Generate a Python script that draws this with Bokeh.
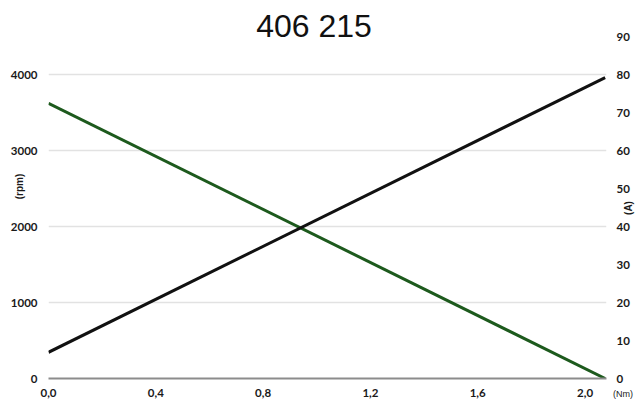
import math
from bokeh.plotting import figure
from bokeh.models import (Range1d, LinearAxis, FixedTicker, CustomJSTickFormatter, Label)
from bokeh.embed import file_html
from bokeh.resources import INLINE

# ---- data ----
title_text = "406 215"
torque_nm = [0.0, 2.075]          # (Nm)
speed_rpm = [3620, 0]             # left axis (rpm)
current_a = [6.9, 79.2]           # right axis (A)
x_ticks = [0.0, 0.4, 0.8, 1.2, 1.6, 2.0]
left_ticks = [0, 1000, 2000, 3000, 4000]
right_ticks = [0, 10, 20, 30, 40, 50, 60, 70, 80, 90]

p = figure(frame_width=558, frame_height=342,
           x_range=Range1d(0, 2.08), y_range=Range1d(0, 4500),
           output_backend="svg", toolbar_location=None,
           min_border_left=48, min_border_right=33, min_border_top=0, min_border_bottom=0)
p.outline_line_color = None
p.background_fill_color = "white"
p.border_fill_color = "white"
p.extra_y_ranges = {"amp": Range1d(0, 90)}

tick_font = "Lato"
tick_size = "11.5px"
tick_color = "#1a1a1a"
small_font = "Liberation Sans"

def style_axis(ax, standoff):
    ax.major_tick_line_color = None
    ax.minor_tick_line_color = None
    ax.major_tick_out = 0
    ax.major_tick_in = 0
    ax.minor_tick_out = 0
    ax.minor_tick_in = 0
    ax.major_label_standoff = standoff
    ax.major_label_text_font = tick_font
    ax.major_label_text_font_style = "bold"
    ax.major_label_text_font_size = tick_size
    ax.major_label_text_color = tick_color

# bottom axis
xa = p.xaxis[0]
xa.ticker = FixedTicker(ticks=x_ticks)
xa.formatter = CustomJSTickFormatter(code="return tick.toFixed(1).replace('.', ',');")
xa.axis_line_color = "#8c8c8c"
xa.axis_line_width = 2
style_axis(xa, 10)

# left axis
ya = p.yaxis[0]
ya.ticker = FixedTicker(ticks=left_ticks)
ya.axis_line_color = None
style_axis(ya, 11)

# right axis
ra = LinearAxis(y_range_name="amp", ticker=FixedTicker(ticks=right_ticks))
ra.axis_line_color = None
style_axis(ra, 10)
p.add_layout(ra, "right")

p.xgrid.grid_line_color = None
p.ygrid.ticker = FixedTicker(ticks=left_ticks)
p.ygrid.grid_line_color = "#e2e2e2"
p.ygrid.grid_line_width = 1.5

# lines
p.line(torque_nm, speed_rpm, line_color="#1d5a1d", line_width=3)
p.line(torque_nm, current_a, line_color="#111111", line_width=3, y_range_name="amp")

# texts (canvas units: from the canvas' top-left corner); small ones sit in the
# bottom panel so that they do not push the frame
p.add_layout(Label(x=313.5, y=25, x_units="canvas", y_units="canvas", text=title_text,
                   text_font="Liberation Sans", text_font_size="32px",
                   text_align="center", text_baseline="middle", text_color="#111111"), "above")
p.add_layout(Label(x=19, y=186, x_units="canvas", y_units="canvas", text="(rpm)",
                   angle=math.pi / 2, text_font=small_font, text_font_size="10px",
                   text_font_style="bold",
                   text_align="center", text_baseline="middle", text_color=tick_color), "below")
p.add_layout(Label(x=627.5, y=207.5, x_units="canvas", y_units="canvas", text="(A)",
                   angle=math.pi / 2, text_font=small_font, text_font_size="10px",
                   text_font_style="bold",
                   text_align="center", text_baseline="middle", text_color=tick_color), "below")
p.add_layout(Label(x=622.5, y=393.5, x_units="canvas", y_units="canvas", text="(Nm)",
                   text_font=small_font, text_font_size="9px",
                   text_align="center", text_baseline="middle", text_color=tick_color), "below")

open("out.html", "w").write(file_html(p, INLINE))
